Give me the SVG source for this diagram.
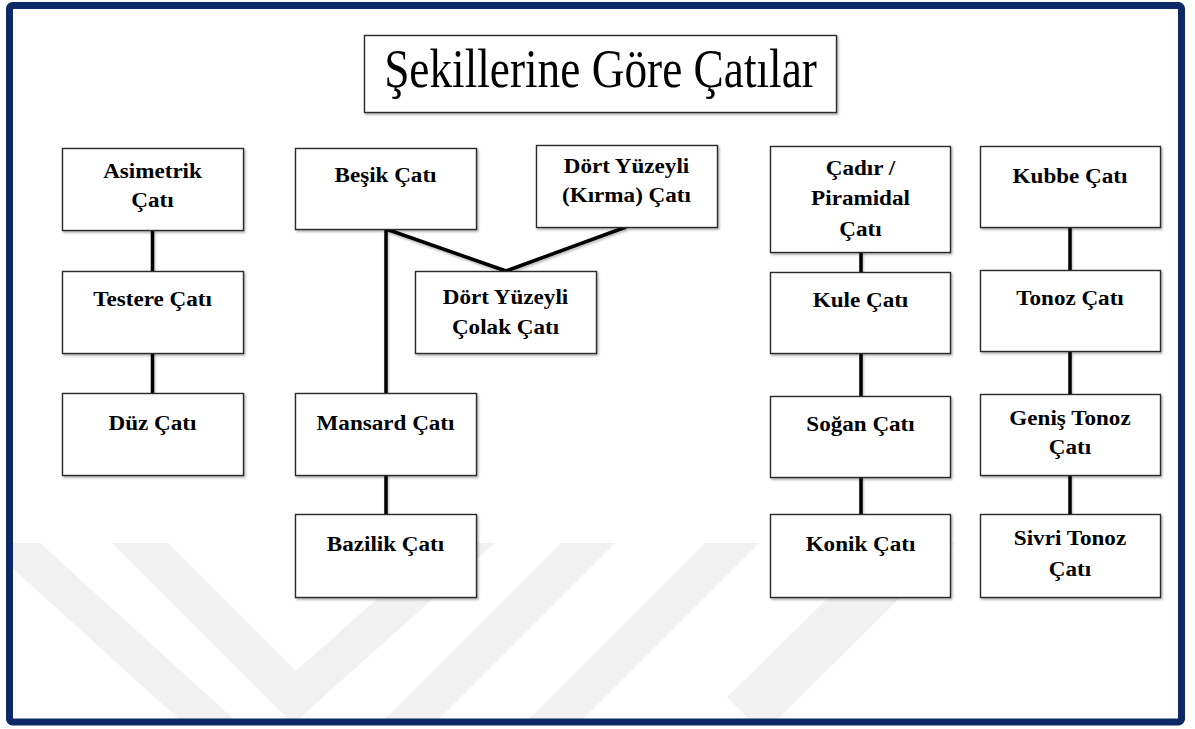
<svg xmlns="http://www.w3.org/2000/svg" width="1195" height="729" viewBox="0 0 1195 729">
<style>
.box{fill:#ffffff;stroke:#2a2a2a;stroke-width:1.4;filter:url(#sh)}
.lbl{font-family:"Liberation Serif","Times New Roman",serif;font-weight:bold;font-size:21px;fill:#000;text-anchor:middle}
.ttl{font-family:"Liberation Serif","Times New Roman",serif;font-size:55px;fill:#000;text-anchor:middle}
.wm{fill:#f1f1f1}
.con line{stroke:#000;stroke-width:3.5;stroke-linecap:butt;fill:none}
</style>
<defs>
<filter id="sh" x="-10%" y="-10%" width="130%" height="130%">
<feDropShadow dx="1.2" dy="1.5" stdDeviation="1" flood-color="#000" flood-opacity="0.35"/>
</filter>
<filter id="lsh" x="-20%" y="-20%" width="140%" height="140%">
<feDropShadow dx="1" dy="2" stdDeviation="1.2" flood-color="#000" flood-opacity="0.25"/>
</filter>
<clipPath id="inner"><rect x="13" y="9" width="1165" height="710"/></clipPath>
</defs>
<rect x="0" y="0" width="1195" height="729" fill="#ffffff"/>
<g id="watermark" clip-path="url(#inner)">
<polygon class="wm" points="-15,543 40,543 237,722 182,722"/>
<polygon class="wm" points="112,543 168,543 296,671 440,543 495,543 293,724"/>
<polygon class="wm" points="561,543 615,543 436,722 382,722"/>
<polygon class="wm" points="705,543 759,543 580,722 526,722"/>
<polygon class="wm" points="884,543 955,543 775,722 752,722 727,697"/>
</g>
<rect id="frame" x="9.5" y="5.5" width="1172" height="716.5" rx="3" fill="none" stroke="#0e2a66" stroke-width="7"/>
<g id="connectors" class="con" filter="url(#lsh)">
<line x1="152.5" y1="230" x2="152.5" y2="271"/>
<line x1="152.5" y1="353" x2="152.5" y2="393"/>
<line x1="386" y1="229" x2="386" y2="393"/>
<line x1="386" y1="229" x2="506" y2="271"/>
<line x1="626" y1="227" x2="506" y2="271"/>
<line x1="386" y1="475" x2="386" y2="514"/>
<line x1="861" y1="252" x2="861" y2="272"/>
<line x1="861" y1="353" x2="861" y2="396"/>
<line x1="861" y1="477" x2="861" y2="514"/>
<line x1="1070" y1="227" x2="1070" y2="270"/>
<line x1="1070" y1="351" x2="1070" y2="394"/>
<line x1="1070" y1="475" x2="1070" y2="514"/>
</g>
<g id="title">
<rect class="box" x="364.5" y="35.5" width="472" height="77"/>
<text class="ttl" transform="translate(600.5,87) scale(0.824,1)">Şekillerine Göre Çatılar</text>
</g>
<g id="asimetrik">
<rect class="box" x="62.5" y="148.5" width="181" height="82"/>
<text class="lbl" transform="translate(152.5,178) scale(1.1,1)"><tspan x="0">Asimetrik</tspan><tspan x="0" dy="29">Çatı</tspan></text>
</g>
<g id="testere">
<rect class="box" x="62.5" y="271.5" width="181" height="82"/>
<text class="lbl" transform="translate(152.5,306) scale(1.1,1)">Testere Çatı</text>
</g>
<g id="duz">
<rect class="box" x="62.5" y="393.5" width="181" height="82"/>
<text class="lbl" transform="translate(152.5,430) scale(1.1,1)">Düz Çatı</text>
</g>
<g id="besik">
<rect class="box" x="295.5" y="148.5" width="181" height="81"/>
<text class="lbl" transform="translate(385.5,182) scale(1.1,1)">Beşik Çatı</text>
</g>
<g id="kirma">
<rect class="box" x="536.5" y="145.5" width="181" height="82"/>
<text class="lbl" transform="translate(626.5,173) scale(1.1,1)"><tspan x="0">Dört Yüzeyli</tspan><tspan x="0" dy="29">(Kırma) Çatı</tspan></text>
</g>
<g id="colak">
<rect class="box" x="415.5" y="271.5" width="181" height="82"/>
<text class="lbl" transform="translate(505.5,304) scale(1.1,1)"><tspan x="0">Dört Yüzeyli</tspan><tspan x="0" dy="30">Çolak Çatı</tspan></text>
</g>
<g id="mansard">
<rect class="box" x="295.5" y="393.5" width="181" height="82"/>
<text class="lbl" transform="translate(385.5,430) scale(1.1,1)">Mansard Çatı</text>
</g>
<g id="bazilik">
<rect class="box" x="295.5" y="514.5" width="181" height="83"/>
<text class="lbl" transform="translate(385.5,551) scale(1.1,1)">Bazilik Çatı</text>
</g>
<g id="cadir">
<rect class="box" x="770.5" y="146.5" width="180" height="106"/>
<text class="lbl" transform="translate(860.5,175) scale(1.1,1)"><tspan x="0">Çadır /</tspan><tspan x="0" dy="30">Piramidal</tspan><tspan x="0" dy="31">Çatı</tspan></text>
</g>
<g id="kule">
<rect class="box" x="770.5" y="272.5" width="180" height="81"/>
<text class="lbl" transform="translate(860.5,307) scale(1.1,1)">Kule Çatı</text>
</g>
<g id="sogan">
<rect class="box" x="770.5" y="396.5" width="180" height="81"/>
<text class="lbl" transform="translate(860.5,431) scale(1.1,1)">Soğan Çatı</text>
</g>
<g id="konik">
<rect class="box" x="770.5" y="514.5" width="180" height="83"/>
<text class="lbl" transform="translate(860.5,551) scale(1.1,1)">Konik Çatı</text>
</g>
<g id="kubbe">
<rect class="box" x="980.5" y="146.5" width="180" height="81"/>
<text class="lbl" transform="translate(1070,183) scale(1.1,1)">Kubbe Çatı</text>
</g>
<g id="tonoz">
<rect class="box" x="980.5" y="270.5" width="180" height="81"/>
<text class="lbl" transform="translate(1070,305) scale(1.1,1)">Tonoz Çatı</text>
</g>
<g id="genis">
<rect class="box" x="980.5" y="394.5" width="180" height="81"/>
<text class="lbl" transform="translate(1070,425) scale(1.1,1)"><tspan x="0">Geniş Tonoz</tspan><tspan x="0" dy="29">Çatı</tspan></text>
</g>
<g id="sivri">
<rect class="box" x="980.5" y="514.5" width="180" height="83"/>
<text class="lbl" transform="translate(1070,545) scale(1.1,1)"><tspan x="0">Sivri Tonoz</tspan><tspan x="0" dy="31">Çatı</tspan></text>
</g>
</svg>
